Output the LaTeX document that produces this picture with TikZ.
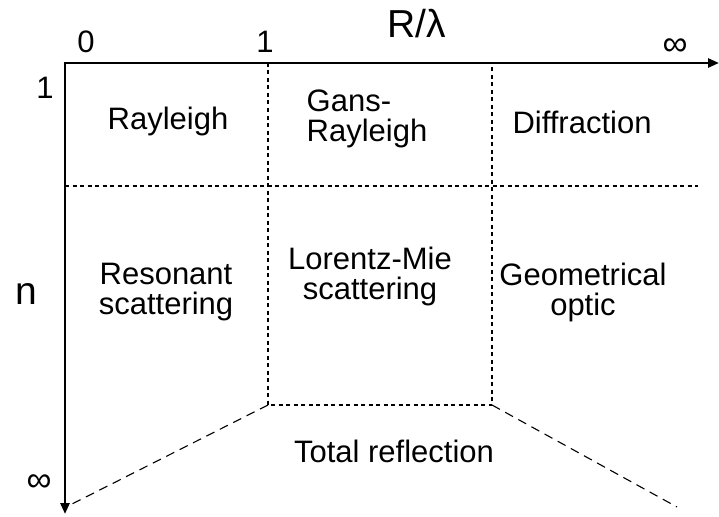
\documentclass[tikz,border=0pt]{standalone}
\usepackage{fontspec}
\setmainfont{Liberation Sans}
\usetikzlibrary{arrows.meta}
\begin{document}
\begin{tikzpicture}[x=1pt,y=-1pt,
  lbl/.style={font=\fontsize{31}{30}\selectfont, inner sep=0pt, align=center},
  big/.style={font=\fontsize{39}{40}\selectfont, inner sep=0pt},
  inf/.style={font=\fontsize{35}{36}\selectfont, inner sep=0pt},
  axis/.style={line width=2.6pt, -{Triangle[length=11pt,width=9pt]}},
  grid/.style={line width=1.1pt, dash pattern=on 4pt off 3.5pt},
  diag/.style={line width=1.1pt, dash pattern=on 9pt off 6pt}]
\useasboundingbox (0,0) rectangle (719,516);
% coordinates
\coordinate (O) at (65,63);
\coordinate (xend) at (719,63);
\coordinate (yend) at (65,514);
\coordinate (a1) at (268,63);
\coordinate (a2) at (492,63);
\coordinate (b1) at (268,405);
\coordinate (b2) at (492,405);
\coordinate (h1) at (65,186);
\coordinate (h2) at (698,186);
\coordinate (d1) at (70,505);
\coordinate (d2) at (677,507);
% axes
\draw[axis] ([xshift=-1.3pt]O) -- (xend);
\draw[axis] ([yshift=-1.3pt]O) -- (yend);
% dashed grid
\draw[grid] (a1) -- (b1) -- (b2) -- (a2);
\draw[grid] (h1) -- (h2);
\draw[diag] (b1) -- (d1);
\draw[diag] (b2) -- (d2);
% axis labels
\node[lbl] (t0) at (86,42) {0};
\node[lbl] (t1) at (265,42) {1};
\node[big] (tr) at (417,24) {R/λ};
\node[inf] (tinf) at (675,47) {∞};
\node[lbl] (n1) at (45,88) {1};
\node[big] (nn) at (26,294) {n};
\node[inf] (ninf) at (39,483) {∞};
% region labels
\node[lbl] (ray) at (168,121) {Rayleigh};
\node[lbl, align=left] (gans) at (367,119) {Gans-\\Rayleigh};
\node[lbl] (diff) at (582,122) {Diffraction};
\node[lbl] (reso) at (166,292) {Resonant\\scattering};
\node[lbl] (lm) at (370,276) {Lorentz-Mie\\scattering};
\node[lbl] (geo) at (583,292) {Geometrical\\optic};
\node[lbl] (tot) at (394,451) {Total reflection};
\end{tikzpicture}
\end{document}
